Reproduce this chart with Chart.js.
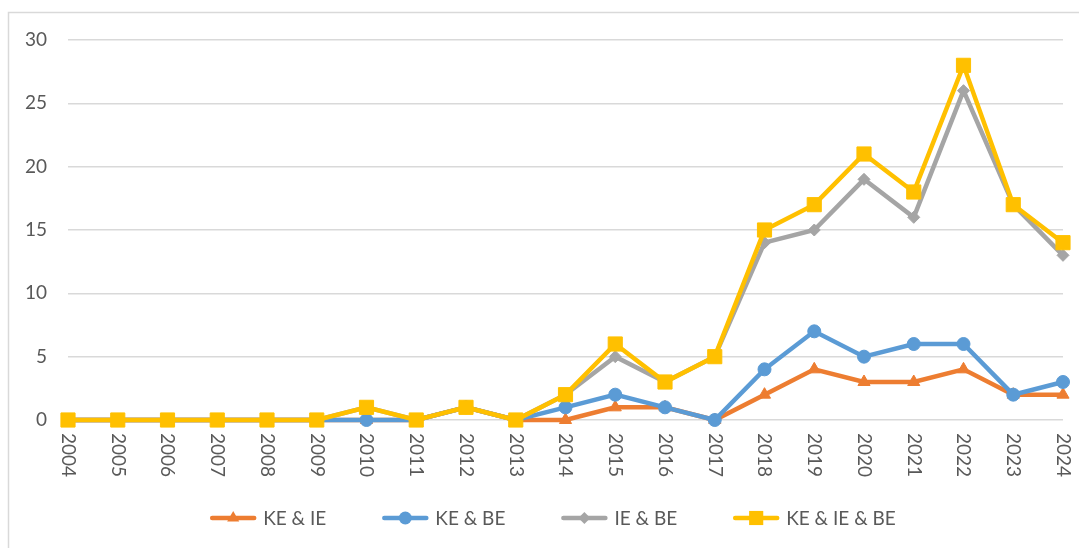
<!DOCTYPE html>
<html lang="en">
<head>
  <meta charset="UTF-8">
  <title>KE / IE / BE per year</title>
  <style>
    html, body { margin: 0; padding: 0; background: #fff; }
    .chart-box { width: 1079px; height: 548px; position: relative; }
  </style>
</head>
<body>
  <div class="chart-box">
    <canvas id="chart"></canvas>
  </div>

  <script src="https://cdn.jsdelivr.net/npm/chart.js"></script>
  <script>
    // data
    const years = ['2004','2005','2006','2007','2008','2009','2010','2011','2012','2013','2014',
                   '2015','2016','2017','2018','2019','2020','2021','2022','2023','2024'];
    const keIe    = [0,0,0,0,0,0,0,0,1,0,0,1,1,0,2,4,3,3,4,2,2];
    const keBe    = [0,0,0,0,0,0,0,0,1,0,1,2,1,0,4,7,5,6,6,2,3];
    const ieBe    = [0,0,0,0,0,0,1,0,1,0,2,5,3,5,14,15,19,16,26,17,13];
    const keIeBe  = [0,0,0,0,0,0,1,0,1,0,2,6,3,5,15,17,21,18,28,17,14];
    const yTicks  = [0,5,10,15,20,25,30];

    const FONT = 'Lato, "Open Sans", sans-serif';
    const TEXT = '#595959';
    const GRID = '#d9d9d9';

    function series(label, data, color, style, radius, order) {
      return {
        label: label, data: data, order: order, clip: false,
        borderColor: color, backgroundColor: color,
        borderWidth: 4.5, tension: 0,
        pointStyle: style, pointRadius: radius,
        pointBorderWidth: 1, pointBorderColor: color, pointBackgroundColor: color
      };
    }

    // marker drawing for the legend
    function drawMarker(ctx, style, x, y, r) {
      ctx.beginPath();
      if (style === 'triangle') {
        for (let k = 0; k < 3; k++) {
          const a = k * 2 * Math.PI / 3;
          const px = x + Math.sin(a) * r, py = y - Math.cos(a) * r;
          k ? ctx.lineTo(px, py) : ctx.moveTo(px, py);
        }
        ctx.closePath();
      } else if (style === 'circle') {
        ctx.arc(x, y, r, 0, Math.PI * 2);
      } else if (style === 'rectRot') {
        ctx.moveTo(x, y - r); ctx.lineTo(x + r, y); ctx.lineTo(x, y + r); ctx.lineTo(x - r, y);
        ctx.closePath();
      } else {
        const s = r * Math.SQRT1_2;
        ctx.rect(x - s, y - s, 2 * s, 2 * s);
      }
      ctx.fill();
    }

    const decor = {
      id: 'decor',
      beforeDraw(chart) {
        const ctx = chart.ctx;
        ctx.save();
        ctx.fillStyle = '#fff';
        ctx.fillRect(0, 0, chart.width, chart.height);
        ctx.strokeStyle = GRID;
        ctx.lineWidth = 1.5;
        ctx.strokeRect(8.5, 12.5, chart.width + 10, chart.height + 10);
        ctx.restore();
      },
      afterDraw(chart) {
        const ctx = chart.ctx;
        const xs = chart.scales.x;
        ctx.save();
        ctx.font = '19px ' + FONT;
        ctx.fillStyle = TEXT;
        // year labels, turned a quarter clockwise
        years.forEach(function (lab, i) {
          const x = xs.getPixelForValue(i);
          ctx.save();
          ctx.translate(x, chart.chartArea.bottom + 13);
          ctx.rotate(Math.PI / 2);
          ctx.textAlign = 'left';
          ctx.textBaseline = 'middle';
          ctx.fillText(lab, 0, 0);
          ctx.restore();
        });

        // legend at the bottom
        const sets = chart.data.datasets;
        const lineLen = 46, gapText = 7, gapItem = 56;
        let total = 0;
        const widths = sets.map(function (d) { return ctx.measureText(d.label).width; });
        widths.forEach(function (w, i) { total += lineLen + gapText + w + (i < sets.length - 1 ? gapItem : 0); });
        let x = 553 - total / 2;
        const y = 518;
        sets.forEach(function (d, i) {
          ctx.strokeStyle = d.borderColor;
          ctx.fillStyle = d.borderColor;
          ctx.lineWidth = 4.5;
          ctx.lineCap = 'round';
          ctx.beginPath();
          ctx.moveTo(x + 2, y); ctx.lineTo(x + lineLen - 2, y);
          ctx.stroke();
          drawMarker(ctx, d.pointStyle, x + lineLen / 2, y, d.pointRadius);
          ctx.fillStyle = TEXT;
          ctx.textAlign = 'left';
          ctx.textBaseline = 'middle';
          ctx.fillText(d.label, x + lineLen + gapText, y + 1);
          x += lineLen + gapText + widths[i] + gapItem;
        });
        ctx.restore();
      }
    };

    new Chart(document.getElementById('chart'), {
      type: 'line',
      data: {
        labels: years,
        datasets: [
          series('KE & IE', keIe, '#ED7D31', 'triangle', 7, 4),
          series('KE & BE', keBe, '#5B9BD5', 'circle', 6.5, 3),
          series('IE & BE', ieBe, '#A5A5A5', 'rectRot', 6, 2),
          series('KE & IE & BE', keIeBe, '#FFC000', 'rect', 10, 1)
        ]
      },
      options: {
        responsive: true,
        maintainAspectRatio: false,
        animation: false,
        layout: { padding: { top: 40, right: 16, left: 0, bottom: 0 } },
        plugins: { legend: { display: false }, tooltip: { enabled: false } },
        scales: {
          x: {
            grid: { display: false },
            border: { display: false },
            ticks: { display: false },
            afterFit: function (s) { s.height = 128; }
          },
          y: {
            min: 0, max: 30,
            afterBuildTicks: function (s) { s.ticks = yTicks.map(function (v) { return { value: v }; }); },
            grid: { color: GRID, lineWidth: 1.5, drawTicks: false },
            border: { display: false },
            ticks: { color: TEXT, padding: 21, font: { family: FONT, size: 19 } },
            afterFit: function (s) { s.width = 68; }
          }
        }
      },
      plugins: [decor]
    });
  </script>
</body>
</html>
